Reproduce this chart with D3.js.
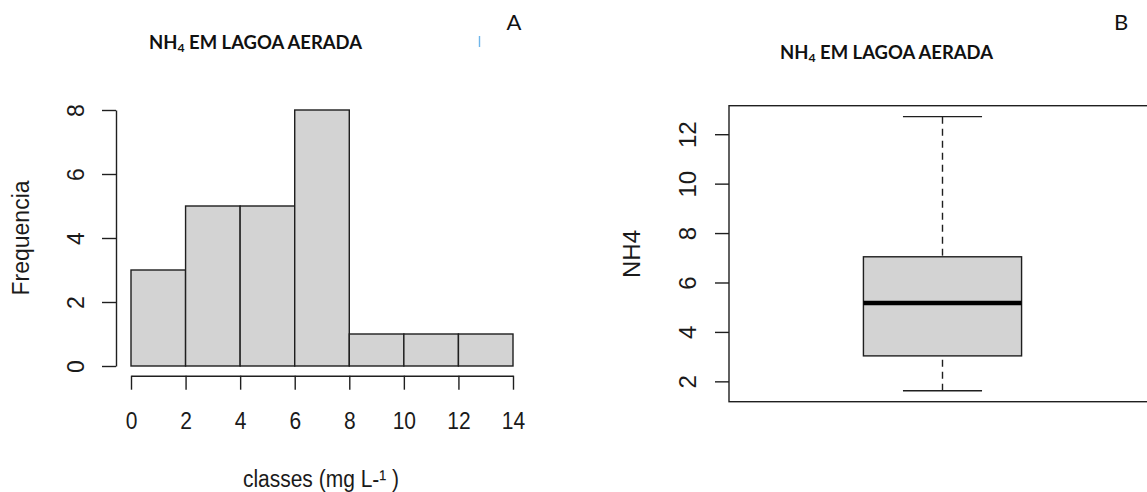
<!DOCTYPE html>
<html>
<head>
<meta charset="utf-8">
<script src="https://cdn.jsdelivr.net/npm/d3@7"></script>
<style>
  html, body { margin: 0; padding: 0; background: #fff; }
  svg { display: block; }
  .rtext { font-family: "Liberation Sans", Arial, sans-serif; fill: #1a1a1a; }
  .title { font-family: Lato, "Open Sans", sans-serif; font-weight: 700; fill: #111; }
</style>
</head>
<body>
<script>
// Histogram: class breaks (mg/L) and counts per class
const histBreaks = [0, 2, 4, 6, 8, 10, 12, 14];
const histCounts = [3, 5, 5, 8, 1, 1, 1];
const histYTicks = [0, 2, 4, 6, 8];
const histXTicks = [0, 2, 4, 6, 8, 10, 12, 14];

// Box plot: five-number summary of NH4 (min, Q1, median, Q3, max)
const nh4Summary = [1.62, 3.03, 5.17, 7.04, 12.71];
const boxYTicks = [2, 4, 6, 8, 10, 12];

const titleText = "EM LAGOA AERADA";

const W = 1147, H = 492;
const svg = d3.select("body").append("svg").attr("width", W).attr("height", H);
svg.append("rect").attr("width", W).attr("height", H).attr("fill", "#fff");

const ink = "#1f1f1f";

// ---------- Panel A: histogram ----------
const hx = d3.scaleLinear().domain([0, 14]).range([131, 513]);
const hy = d3.scaleLinear().domain([0, 8]).range([366, 110]);

const bins = histCounts.map((c, i) => ({ x0: histBreaks[i], x1: histBreaks[i + 1], count: c }));

svg.append("g").selectAll("rect").data(bins).join("rect")
  .attr("x", d => hx(d.x0))
  .attr("y", d => hy(d.count))
  .attr("width", d => hx(d.x1) - hx(d.x0))
  .attr("height", d => hy(0) - hy(d.count))
  .attr("fill", "#d3d3d3")
  .attr("stroke", ink)
  .attr("stroke-width", 1.4);

// y axis
const gya = svg.append("g").attr("transform", "translate(116,0)")
  .call(d3.axisLeft(hy).tickValues(histYTicks).tickSize(14).tickSizeOuter(0).tickFormat(""));
gya.select(".domain").attr("stroke", ink).attr("stroke-width", 1.4);
gya.selectAll(".tick line").attr("stroke", ink).attr("stroke-width", 1.4);
gya.selectAll(".tick").append("text")
  .attr("class", "rtext")
  .attr("transform", "translate(-32.5,0) rotate(-90)")
  .attr("text-anchor", "middle")
  .attr("fill", "#1a1a1a")
  .style("font-size", "23px")
  .text(d => d);

// x axis
const gxa = svg.append("g").attr("transform", "translate(0,375.7)")
  .call(d3.axisBottom(hx).tickValues(histXTicks).tickSize(14).tickSizeOuter(0).tickFormat(""));
gxa.select(".domain").attr("stroke", ink).attr("stroke-width", 1.4);
gxa.selectAll(".tick line").attr("stroke", ink).attr("stroke-width", 1.4);
gxa.selectAll(".tick").append("text")
  .attr("class", "rtext")
  .attr("transform", "translate(0,53.3) scale(1,1.15)")
  .attr("text-anchor", "middle")
  .attr("fill", "#1a1a1a")
  .style("font-size", "21px")
  .text(d => d);

// axis titles
svg.append("text").attr("class", "rtext")
  .attr("transform", "translate(28.5,238) rotate(-90)")
  .attr("text-anchor", "middle")
  .style("font-size", "23px")
  .text("Frequencia");

svg.append("text").attr("class", "rtext")
  .attr("transform", "translate(321,487) scale(1,1.15)")
  .attr("text-anchor", "middle")
  .style("font-size", "21px")
  .text("classes (mg L-¹ )");

// ---------- Panel B: box plot ----------
const [vMin, vQ1, vMed, vQ3, vMax] = nh4Summary;
const pad = (vMax - vMin) * 0.04;
const by = d3.scaleLinear().domain([vMin - pad, vMax + pad]).range([401.7, 105.7]);
const bx = d3.scaleLinear().domain([0.46, 1.54]).range([729, 1156]);

const gB = svg.append("g");

// whiskers (dashed)
gB.append("line")
  .attr("x1", bx(1)).attr("x2", bx(1))
  .attr("y1", by(vMax)).attr("y2", by(vQ3))
  .attr("stroke", ink).attr("stroke-width", 1.4).attr("stroke-dasharray", "7,5");
gB.append("line")
  .attr("x1", bx(1)).attr("x2", bx(1))
  .attr("y1", by(vMin)).attr("y2", by(vQ1))
  .attr("stroke", ink).attr("stroke-width", 1.4).attr("stroke-dasharray", "7,5");

// whisker caps
[vMin, vMax].forEach(v => {
  gB.append("line")
    .attr("x1", bx(0.9)).attr("x2", bx(1.1))
    .attr("y1", by(v)).attr("y2", by(v))
    .attr("stroke", ink).attr("stroke-width", 1.4);
});

// box
gB.append("rect")
  .attr("x", bx(0.8)).attr("y", by(vQ3))
  .attr("width", bx(1.2) - bx(0.8))
  .attr("height", by(vQ1) - by(vQ3))
  .attr("fill", "#d3d3d3").attr("stroke", ink).attr("stroke-width", 1.4);

// median
gB.append("line")
  .attr("x1", bx(0.8)).attr("x2", bx(1.2))
  .attr("y1", by(vMed)).attr("y2", by(vMed))
  .attr("stroke", "#000").attr("stroke-width", 4.4);

// plot frame
gB.append("rect")
  .attr("x", 729).attr("y", 105.7)
  .attr("width", 1156 - 729).attr("height", 401.7 - 105.7)
  .attr("fill", "none").attr("stroke", ink).attr("stroke-width", 1.4);

// y axis
const gyb = svg.append("g").attr("transform", "translate(729,0)")
  .call(d3.axisLeft(by).tickValues(boxYTicks).tickSize(14).tickSizeOuter(0).tickFormat(""));
gyb.select(".domain").remove();
gyb.selectAll(".tick line").attr("stroke", ink).attr("stroke-width", 1.4);
gyb.selectAll(".tick").append("text")
  .attr("class", "rtext")
  .attr("transform", "translate(-33,0) rotate(-90)")
  .attr("text-anchor", "middle")
  .attr("fill", "#1a1a1a")
  .style("font-size", "24px")
  .text(d => d);

svg.append("text").attr("class", "rtext")
  .attr("transform", "translate(640,254) rotate(-90)")
  .attr("text-anchor", "middle")
  .style("font-size", "24px")
  .text("NH4");

// ---------- Titles and panel letters ----------
function title(x, y) {
  const t = svg.append("text").attr("class", "title")
    .attr("x", x).attr("y", y)
    .attr("textLength", 213).attr("lengthAdjust", "spacingAndGlyphs")
    .style("font-size", "18px");
  t.append("tspan").text("NH");
  t.append("tspan").attr("dy", 3).style("font-size", "12px").text("4");
  t.append("tspan").attr("dy", -3).text(" " + titleText);
}
title(149, 48.5);
title(780, 58.7);

svg.append("text").attr("x", 514).attr("y", 30)
  .attr("text-anchor", "middle")
  .style("font-family", "Lato, 'Open Sans', sans-serif").style("font-size", "22px").attr("fill", "#111")
  .text("A");
svg.append("text").attr("x", 1121).attr("y", 30)
  .attr("text-anchor", "middle")
  .style("font-family", "Lato, 'Open Sans', sans-serif").style("font-size", "22px").attr("fill", "#111")
  .text("B");

// thin text cursor beside the first title
svg.append("line")
  .attr("x1", 479.5).attr("x2", 479.5).attr("y1", 36).attr("y2", 47)
  .attr("stroke", "#6fb6ea").attr("stroke-width", 1.4);
</script>
</body>
</html>
